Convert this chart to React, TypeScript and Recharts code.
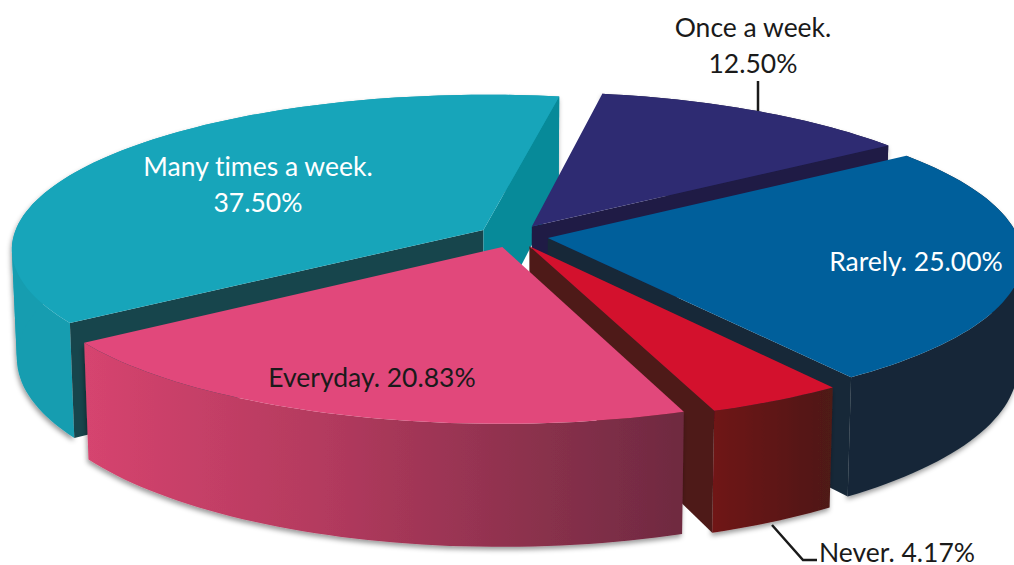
import { Pie, PieChart } from "recharts";

// drawn back to front, so the list starts at the rear slice
const labels = ["Many times a week.", "Once a week.", "Rarely.", "Never.", "Everyday."];
const shares = [37.5, 12.5, 25.0, 4.17, 20.83];

const data = labels.map((name, i) => ({ name, value: shares[i] }));

const looks: Record<string, { top: string; side: string; startCut: string; endCut: string }> = {
  "Many times a week.": { top: "#17a5ba", side: "#189db0", startCut: "#17454c", endCut: "#078a99" },
  "Once a week.": { top: "#2e2b72", side: "#1f1b45", startCut: "#1f1b45", endCut: "#1f1b45" },
  "Rarely.": { top: "#005f9b", side: "#172838", startCut: "#172838", endCut: "#172838" },
  "Never.": { top: "#d3112d", side: "url(#neverSide)", startCut: "#4e1a18", endCut: "#4e1a18" },
  "Everyday.": { top: "#e1487b", side: "url(#everydaySide)", startCut: "#6e2a40", endCut: "#6e2a40" },
};

const FLATTEN = 0.325;
const PERSPECTIVE = 0.12;
const EXPLODE = 0.075;
const DEPTH = 108;
const DEPTH_GROWTH = 0.08;
const BOTTOM_SCALE = 0.99;
const RAD = Math.PI / 180;

type Pt = [number, number];

function toPath(points: Pt[]) {
  return "M" + points.map((p) => `${p[0].toFixed(1)},${p[1].toFixed(1)}`).join("L") + "Z";
}

// the wall folds over itself where the rim turns round, so cut the rim where x changes direction
function monotoneRuns(arc: Pt[]) {
  const runs: Pt[][] = [];
  let run: Pt[] = [arc[0]];
  let dir = 0;
  for (let i = 1; i < arc.length; i++) {
    const d = Math.sign(arc[i][0] - arc[i - 1][0]);
    if (dir !== 0 && d !== 0 && d !== dir) {
      runs.push(run);
      run = [arc[i - 1]];
    }
    if (d !== 0) dir = d;
    run.push(arc[i]);
  }
  runs.push(run);
  return runs;
}

function Slice3D(props: any) {
  const { cx, cy, outerRadius, startAngle, endAngle, name } = props;
  const look = looks[name];
  const mid = ((startAngle + endAngle) / 2) * RAD;
  const offU = EXPLODE * Math.cos(mid);
  const offV = EXPLODE * Math.sin(mid);

  const project = (u: number, v: number): Pt => {
    const w = 1 + PERSPECTIVE * v;
    return [cx + (outerRadius * u) / w, cy - (outerRadius * FLATTEN * v) / w];
  };
  const drop = (p: Pt): Pt => [
    cx + (p[0] - cx) * BOTTOM_SCALE,
    p[1] + DEPTH + (p[1] - cy) * DEPTH_GROWTH,
  ];

  const apex = project(offU, offV);
  const steps = Math.max(4, Math.ceil(Math.abs(endAngle - startAngle) / 1.5));
  const arc: Pt[] = [];
  for (let i = 0; i <= steps; i++) {
    const a = (startAngle + ((endAngle - startAngle) * i) / steps) * RAD;
    arc.push(project(offU + Math.cos(a), offV + Math.sin(a)));
  }
  const first = arc[0];
  const last = arc[arc.length - 1];
  const inside = project(offU + 0.5 * Math.cos(mid), offV + 0.5 * Math.sin(mid));

  // a cut wall hangs below its edge, so it only shows when the slice's top lies above that edge
  const showsWall = (end: Pt) => {
    const cross = (end[0] - apex[0]) * (inside[1] - apex[1]) - (end[1] - apex[1]) * (inside[0] - apex[0]);
    return end[0] > apex[0] ? cross < 0 : cross > 0;
  };

  return (
    <g>
      <g filter="url(#sideShadow)">
        {monotoneRuns(arc).map((run, i) => (
          <path key={i} d={toPath([...run, ...run.map(drop).reverse()])} fill={look.side} />
        ))}
      </g>
      {showsWall(first) && <path d={toPath([apex, first, drop(first), drop(apex)])} fill={look.startCut} />}
      {showsWall(last) && <path d={toPath([apex, last, drop(last), drop(apex)])} fill={look.endCut} />}
      <path d={toPath([apex, ...arc])} fill={look.top} />
    </g>
  );
}

const labelSpots: Record<string, { x: number; y: number; color: string; twoLines: boolean }> = {
  "Many times a week.": { x: 258, y: 176, color: "#ffffff", twoLines: true },
  "Once a week.": { x: 753, y: 37, color: "#1a1a1a", twoLines: true },
  "Rarely.": { x: 916, y: 271, color: "#ffffff", twoLines: false },
  "Never.": { x: 897, y: 562, color: "#1a1a1a", twoLines: false },
  "Everyday.": { x: 372, y: 387, color: "#1a1a1a", twoLines: false },
};

function SliceLabel(props: any) {
  const spot = labelSpots[props.name];
  const pct = `${Number(props.value).toFixed(2)}%`;
  return (
    <g
      fontFamily="Lato"
      fontSize={26.5}
      fill={spot.color}
      textAnchor="middle"
      style={{ fontVariantLigatures: "none" }}
    >
      {spot.twoLines ? (
        <text x={spot.x} y={spot.y}>
          <tspan x={spot.x}>{props.name}</tspan>
          <tspan x={spot.x} dy={36}>
            {pct}
          </tspan>
        </text>
      ) : (
        <text x={spot.x} y={spot.y}>{`${props.name} ${pct}`}</text>
      )}
      {props.name === "Once a week." && <path d="M758,81V111" stroke="#1a1a1a" strokeWidth={2.5} fill="none" />}
      {props.name === "Never." && <path d="M772,525L803,560H817" stroke="#1a1a1a" strokeWidth={2.5} fill="none" />}
    </g>
  );
}

export default function App() {
  return (
    <div style={{ position: "absolute", left: 0, top: 0, width: 1014, height: 565, overflow: "hidden", background: "#fff" }}>
      <PieChart width={1014} height={565} margin={{ top: 0, right: 0, bottom: 0, left: 0 }}>
        <defs>
          <linearGradient id="everydaySide" gradientUnits="userSpaceOnUse" x1={85} y1={0} x2={685} y2={0}>
            <stop offset="0%" stopColor="#d6446f" />
            <stop offset="40%" stopColor="#b33a5e" />
            <stop offset="100%" stopColor="#6e2a40" />
          </linearGradient>
          <linearGradient id="neverSide" gradientUnits="userSpaceOnUse" x1={712} y1={0} x2={832} y2={0}>
            <stop offset="0%" stopColor="#701216" />
            <stop offset="100%" stopColor="#4e1a18" />
          </linearGradient>
          <filter id="sideShadow" x="-5%" y="-5%" width="110%" height="115%">
            <feDropShadow dx={-1} dy={3} stdDeviation={2.5} floodColor="#000" floodOpacity={0.4} />
          </filter>
        </defs>
        <Pie
          data={data}
          dataKey="value"
          nameKey="name"
          cx={513}
          cy={236}
          innerRadius={0}
          outerRadius={470}
          startAngle={215}
          endAngle={-145}
          stroke="none"
          shape={Slice3D}
          label={SliceLabel}
          labelLine={false}
          isAnimationActive={false}
        />
      </PieChart>
    </div>
  );
}
